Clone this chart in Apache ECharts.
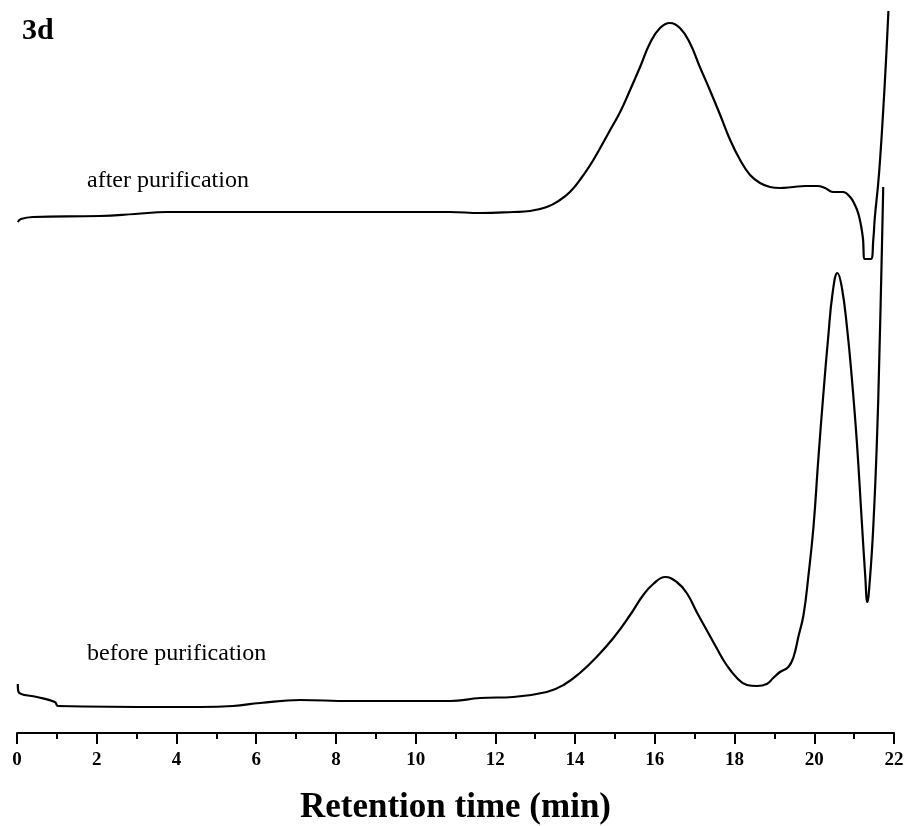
<!DOCTYPE html>
<html>
<head>
<meta charset="utf-8">
<script src="https://cdn.jsdelivr.net/npm/echarts@6/dist/echarts.min.js"></script>
<style>html,body{margin:0;padding:0;background:#fff}#c{width:907px;height:826px}</style>
</head>
<body>
<div id="c"></div>
<script>
// Retention time (min) and detector signal (arbitrary units)
const afterX = [0.02,0.10,0.40,2.08,2.96,3.76,4.59,7.10,9.61,10.86,11.62,12.45,12.87,13.29,13.62,13.87,14.12,14.38,14.63,14.88,15.13,15.38,15.63,15.88,16.13,16.38,16.63,16.88,17.13,17.38,17.64,17.89,18.14,18.39,18.64,18.89,19.14,19.47,19.77,20.07,20.27,20.47,20.72,20.90,21.02,21.10,21.17,21.22,21.27,21.42,21.48,21.52,21.60,21.65,21.73,21.80,21.86];
const afterY = [511,514,516,517,519,521,521,521,521,521,520,521,522,526,533,541,553,568,585,603,621,643,666,690,705,710,705,690,666,643,618,593,573,558,550,546,545,546,547,547,545,541,541,536,528,520,508,495,474,474,493,516,548,573,623,673,722];
const beforeX = [0.02,0.04,0.50,0.95,1.03,3.76,4.59,5.42,6.10,7.10,8.35,10.86,11.62,12.45,13.29,13.71,14.12,14.54,14.96,15.38,15.71,15.96,16.26,16.55,16.80,17.05,17.30,17.55,17.80,18.06,18.31,18.56,18.81,18.97,19.14,19.35,19.48,19.60,19.73,19.85,19.98,20.10,20.23,20.35,20.46,20.58,20.69,20.82,20.94,21.07,21.19,21.28,21.33,21.40,21.48,21.57,21.63,21.69,21.73];
const beforeY = [49,41,36,31,27,26,26,27,30,33,32,32,35,36,41,48,60,76,95,118,138,149,156,151,140,121,103,85,68,55,48,47,49,55,61,66,76,96,118,156,206,273,340,396,440,460,446,406,356,290,213,156,131,156,206,290,373,473,546];
const xTicks = [0,2,4,6,8,10,12,14,16,18,20,22];
const labels = ["after purification","before purification"];
const panelLabel = "3d";
const axisTitle = "Retention time (min)";

const zip = (xs, ys) => xs.map((x,i)=>[x, ys[i]]);
const chart = echarts.init(document.getElementById('c'), null, {renderer:'canvas'});
const lineStyle = {color:'#000', width:2.2};
chart.setOption({
  animation:false,
  backgroundColor:'#fff',
  grid:{left:17, right:13, top:10, bottom:93, containLabel:false, outerBoundsMode:'none'},
  xAxis:{
    type:'value', min:xTicks[0], max:xTicks[xTicks.length-1], interval:2,
    axisLine:{show:true, lineStyle:{color:'#000', width:2}},
    axisTick:{show:true, length:11, lineStyle:{color:'#000', width:2}},
    minorTick:{show:true, splitNumber:2, length:6, lineStyle:{color:'#000', width:2}},
    splitLine:{show:false},
    axisLabel:{margin:18, color:'#000', fontFamily:'Liberation Serif', fontWeight:'bold', fontSize:19},
    name:axisTitle, nameLocation:'middle', nameGap:57,
    nameTextStyle:{color:'#000', fontFamily:'Liberation Serif', fontWeight:'bold', fontSize:35}
  },
  yAxis:{type:'value', min:0, max:723, show:false, splitLine:{show:false}},
  series:[
    {type:'line', data:zip(afterX, afterY), showSymbol:false, smooth:0.45, lineStyle, clip:false},
    {type:'line', data:zip(beforeX, beforeY), showSymbol:false, smooth:0.45, lineStyle, clip:false}
  ],
  graphic:[
    {type:'text', left:22, top:16, style:{text:panelLabel, fill:'#000', font:'bold 30px "Liberation Serif"'}},
    {type:'text', left:87, top:169, style:{text:labels[0], fill:'#000', font:'24px "Liberation Serif"'}},
    {type:'text', left:87, top:642, style:{text:labels[1], fill:'#000', font:'24px "Liberation Serif"'}}
  ]
});
</script>
</body>
</html>
